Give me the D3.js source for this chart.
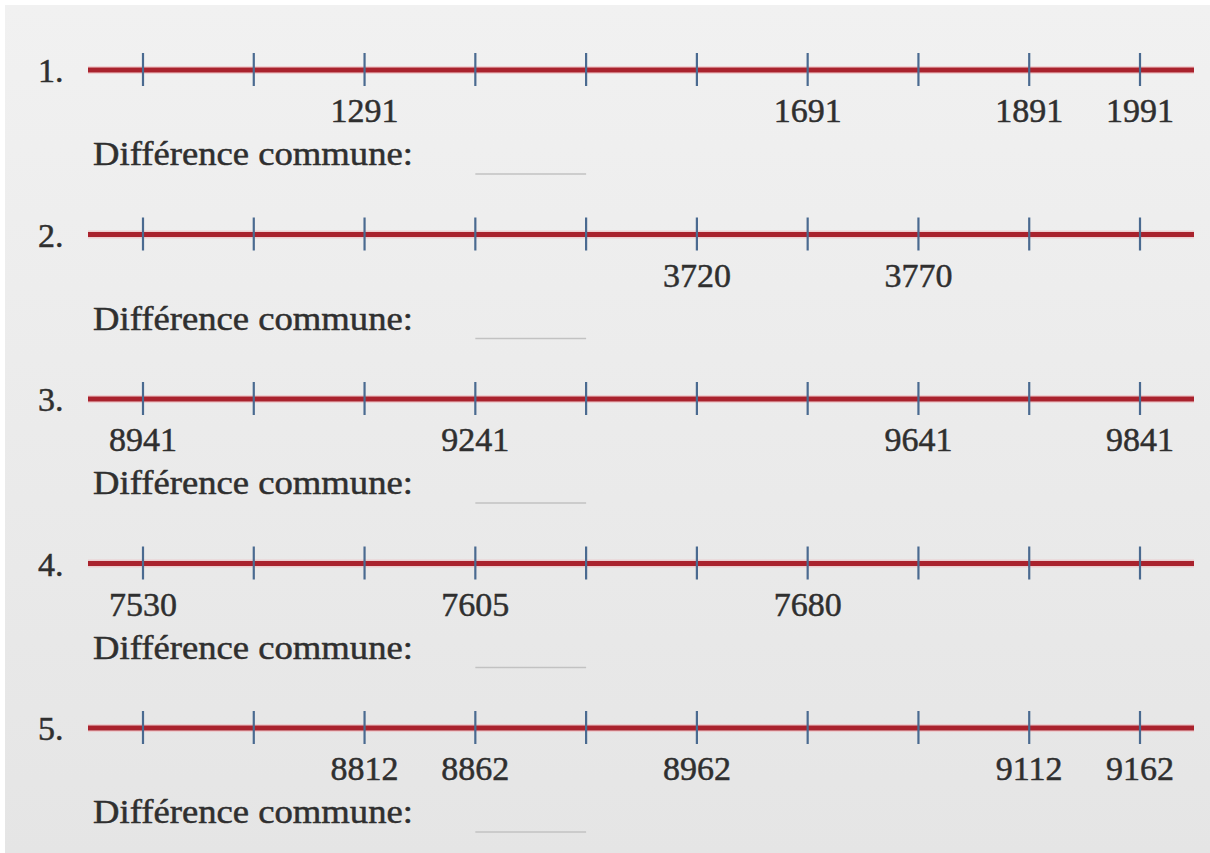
<!DOCTYPE html>
<html>
<head>
<meta charset="utf-8">
<script src="https://cdn.jsdelivr.net/npm/d3@7"></script>
<style>
  html, body { margin: 0; padding: 0; background: #ffffff; }
  svg { display: block; }
</style>
</head>
<body>
<svg id="chart" width="1210" height="853"></svg>
<script>
// ---- data ----
const rowNumbers = ["1.", "2.", "3.", "4.", "5."];
const tickIndex = [0, 1, 2, 3, 4, 5, 6, 7, 8, 9];
const labels1 = ["", "", "1291", "", "", "", "1691", "", "1891", "1991"];
const labels2 = ["", "", "", "", "", "3720", "", "3770", "", ""];
const labels3 = ["8941", "", "", "9241", "", "", "", "9641", "", "9841"];
const labels4 = ["7530", "", "", "7605", "", "", "7680", "", "", ""];
const labels5 = ["", "", "8812", "8862", "", "8962", "", "", "9112", "9162"];
const rowLabels = [labels1, labels2, labels3, labels4, labels5];
const caption = "Différence commune:";

// ---- drawing ----
const svg = d3.select("#chart");
const W = 1210, H = 853;

const defs = svg.append("defs");
const grad = defs.append("linearGradient").attr("id", "bg")
  .attr("x1", 0).attr("y1", 0).attr("x2", 0).attr("y2", 1);
grad.append("stop").attr("offset", "0%").attr("stop-color", "#f1f1f1");
grad.append("stop").attr("offset", "100%").attr("stop-color", "#e5e5e5");

svg.append("rect").attr("x", 5).attr("y", 5).attr("width", W - 5).attr("height", H - 5)
  .attr("fill", "url(#bg)");

const x = d3.scalePoint().domain(tickIndex).range([143, 1140]);
const y = d3.scalePoint().domain(d3.range(rowNumbers.length)).range([70, 728]);

const font = "'Liberation Serif', 'Times New Roman', serif";
const textColor = "#2f2f2f";

function styleText(sel) {
  sel.attr("font-family", font).attr("font-size", 34)
    .attr("fill", textColor).attr("stroke", textColor)
    .attr("stroke-width", 0.5).attr("paint-order", "stroke");
}

rowNumbers.forEach((num, r) => {
  const g = svg.append("g").attr("transform", `translate(0,${y(r)})`);

  // row number
  g.append("text").attr("x", 38).attr("y", 12).call(styleText).text(num);

  // red line
  g.append("line").attr("x1", 88).attr("x2", 1194).attr("y1", 0).attr("y2", 0)
    .attr("stroke", "#f0b4b8").attr("stroke-width", 8).attr("opacity", 0.5);
  g.append("line").attr("x1", 88).attr("x2", 1194).attr("y1", 0).attr("y2", 0)
    .attr("stroke", "#a9222d").attr("stroke-width", 5);

  // ticks
  g.selectAll("line.tick").data(tickIndex).join("line")
    .attr("class", "tick")
    .attr("x1", d => x(d)).attr("x2", d => x(d))
    .attr("y1", -17).attr("y2", 16)
    .attr("stroke", "#4a6a90").attr("stroke-width", 2.2);

  // labels
  g.selectAll("text.lbl").data(rowLabels[r].map((t, i) => ({ t, i })).filter(d => d.t !== ""))
    .join("text").attr("class", "lbl")
    .attr("x", d => x(d.i)).attr("y", 52)
    .attr("text-anchor", "middle")
    .call(styleText)
    .text(d => d.t);

  // caption
  g.append("text").attr("x", 93).attr("y", 95)
    .call(styleText)
    .attr("textLength", 320).attr("lengthAdjust", "spacingAndGlyphs")
    .text(caption);

  // blank answer line
  g.append("line").attr("x1", x(3)).attr("x2", x(4)).attr("y1", 104).attr("y2", 104)
    .attr("stroke", "#c2c2c2").attr("stroke-width", 1.5);
});
</script>
</body>
</html>
